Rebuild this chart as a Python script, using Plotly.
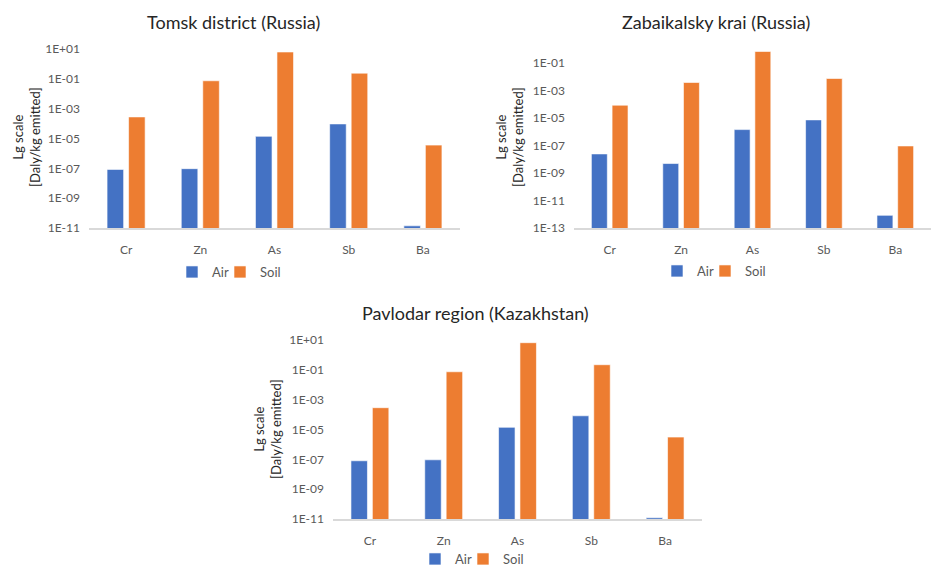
import plotly.graph_objects as go

elements = ["Cr", "Zn", "As", "Sb", "Ba"]

tomsk_air = [8.5e-8, 9.5e-8, 1.4e-5, 9.5e-5, 1.4e-11]
tomsk_soil = [2.8e-4, 7.4e-2, 6.3, 2.4e-1, 3.6e-6]

zab_air = [2.4e-8, 4.8e-9, 1.4e-6, 7.1e-6, 8.3e-13]
zab_soil = [8.3e-5, 3.7e-3, 6.6e-1, 7.2e-3, 9.1e-8]

pav_air = [8.0e-8, 9.3e-8, 1.4e-5, 8.3e-5, 1.2e-11]
pav_soil = [2.9e-4, 7.4e-2, 6.6, 2.2e-1, 3.1e-6]

titles = ["Tomsk district (Russia)", "Zabaikalsky krai (Russia)", "Pavlodar region (Kazakhstan)"]
y_title = "Lg scale<br>[Daly/kg emitted]"

ticks_a = [1e1, 1e-1, 1e-3, 1e-5, 1e-7, 1e-9, 1e-11]
labels_a = ["1E+01", "1E-01", "1E-03", "1E-05", "1E-07", "1E-09", "1E-11"]
ticks_b = [1e-1, 1e-3, 1e-5, 1e-7, 1e-9, 1e-11, 1e-13]
labels_b = ["1E-01", "1E-03", "1E-05", "1E-07", "1E-09", "1E-11", "1E-13"]

AIR = "#4472C4"
SOIL = "#ED7D31"
FONT = "Lato"
W, H = 932, 566

def px(x):
    return x / W

def py(y):
    return 1 - y / H

fig = go.Figure()

panels = [
    (tomsk_air, tomsk_soil, "x", "y", "legend", "legend2"),
    (zab_air, zab_soil, "x2", "y2", "legend3", "legend4"),
    (pav_air, pav_soil, "x3", "y3", "legend5", "legend6"),
]
for air, soil, xa, ya, lg_a, lg_s in panels:
    fig.add_trace(go.Bar(x=elements, y=air, name="Air", marker=dict(color=AIR, line=dict(color="white", width=0.6)),
                         xaxis=xa, yaxis=ya, legend=lg_a))
    fig.add_trace(go.Bar(x=elements, y=soil, name="Soil", marker=dict(color=SOIL, line=dict(color="white", width=0.6)),
                         xaxis=xa, yaxis=ya, legend=lg_s))

xcommon = dict(showgrid=False, showline=True, linecolor="#D9D9D9", linewidth=1.5, ticks="",
               automargin=False, ticklabelstandoff=10,
               tickfont=dict(family=FONT, size=12, color="#595959"), fixedrange=True)
ycommon = dict(type="log", showgrid=False, showline=False, zeroline=False, ticks="",
               automargin=False,
               tickfont=dict(family=FONT, size=12, color="#595959"), ticklabelstandoff=8)

legcommon = dict(orientation="h", xanchor="left", yanchor="middle", xref="container", yref="container",
                 font=dict(family=FONT, size=13, color="#595959"), bgcolor="rgba(0,0,0,0)",
                 itemwidth=30, tracegroupgap=0, borderwidth=0)

# legend entry positions (left edge of each legend box, centre line)
leg_pos = {
    "legend": (172, 272), "legend2": (220, 272),
    "legend3": (657, 271), "legend4": (705, 271),
    "legend5": (415, 559), "legend6": (463, 559),
}
leg_layout = {k: dict(x=px(v[0]), y=py(v[1]), **legcommon) for k, v in leg_pos.items()}

fig.update_layout(
    width=W, height=H,
    margin=dict(l=0, r=0, t=0, b=0, autoexpand=False),
    paper_bgcolor="white", plot_bgcolor="white",
    barmode="group", bargap=0.42, bargroupgap=0.23,
    xaxis=dict(domain=[px(89), px(460)], anchor="y", **xcommon),
    yaxis=dict(domain=[py(228), py(49)], anchor="x", range=[-11, 1], tickvals=ticks_a, ticktext=labels_a, **ycommon),
    xaxis2=dict(domain=[px(574), px(931)], anchor="y2", **xcommon),
    yaxis2=dict(domain=[py(228), py(49)], anchor="x2", range=[-13, 0], tickvals=ticks_b, ticktext=labels_b, **ycommon),
    xaxis3=dict(domain=[px(333), px(702)], anchor="y3", **xcommon),
    yaxis3=dict(domain=[py(519), py(340)], anchor="x3", range=[-11, 1], tickvals=ticks_a, ticktext=labels_a, **ycommon),
    showlegend=True,
    **leg_layout,
)

# chart titles
for text, cx, cy in [(titles[0], 233, 22), (titles[1], 716, 22), (titles[2], 475, 313)]:
    fig.add_annotation(text=text, x=px(cx), y=py(cy), xref="paper", yref="paper", showarrow=False,
                       xanchor="center", yanchor="middle", font=dict(family=FONT, size=18, color="#262626"))

# y axis titles
for cx, cy in [(27, 137), (510, 137), (268, 429)]:
    fig.add_annotation(text=y_title, x=px(cx), y=py(cy), xref="paper", yref="paper", showarrow=False,
                       textangle=-90, xanchor="center", yanchor="middle",
                       font=dict(family=FONT, size=13, color="#262626"))

fig.write_html("out.html", config={"displayModeBar": False},
               post_script="document.body.style.margin='0';")
